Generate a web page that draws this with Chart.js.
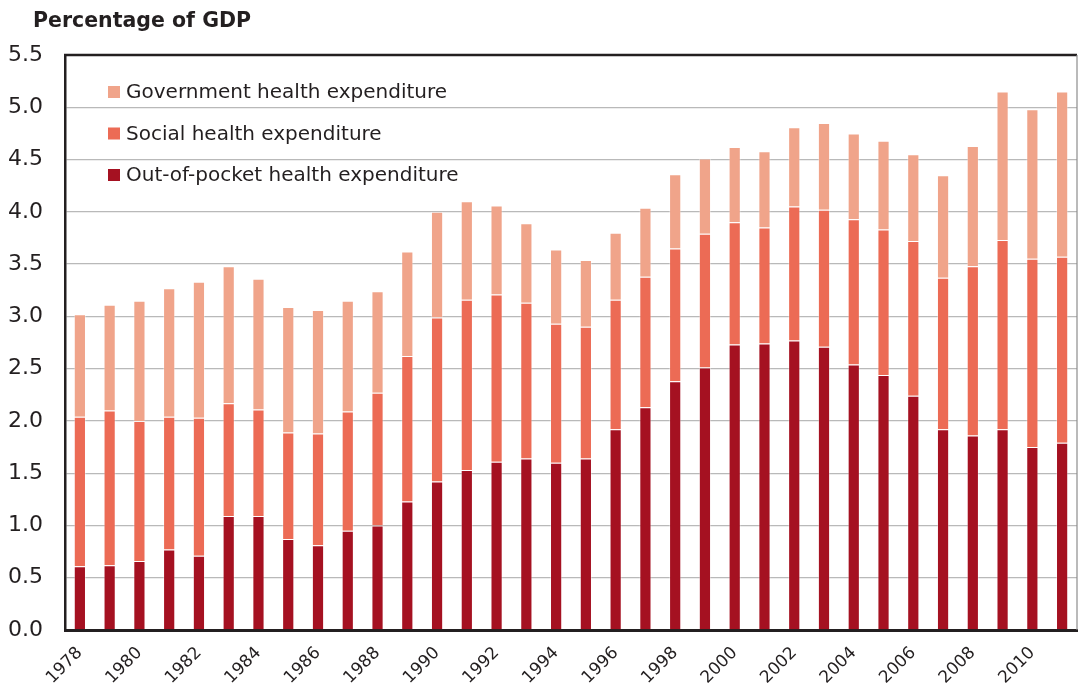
<!DOCTYPE html>
<html>
<head>
<meta charset="utf-8">
<script src="https://cdn.jsdelivr.net/npm/chart.js@4.4.1/dist/chart.umd.min.js"></script>
<style>
  html, body { margin: 0; padding: 0; background: #fff; }
  #wrap { width: 1079px; height: 687px; position: relative; }
</style>
</head>
<body>
<div id="wrap"><canvas id="myChart"></canvas></div>
<script>
'use strict';
//data
let years = ['1978', '1979', '1980', '1981', '1982', '1983', '1984', '1985', '1986', '1987',
  '1988', '1989', '1990', '1991', '1992', '1993', '1994', '1995', '1996', '1997',
  '1998', '1999', '2000', '2001', '2002', '2003', '2004', '2005', '2006', '2007',
  '2008', '2009', '2010', '2011'];
let outOfPocket = [0.61, 0.62, 0.66, 0.77, 0.71, 1.09, 1.09, 0.87, 0.81, 0.95,
  1.00, 1.23, 1.42, 1.53, 1.61, 1.64, 1.60, 1.64, 1.92, 2.13,
  2.38, 2.51, 2.73, 2.74, 2.77, 2.71, 2.54, 2.44, 2.24, 1.92,
  1.86, 1.92, 1.75, 1.79];
let social = [1.43, 1.48, 1.34, 1.27, 1.32, 1.08, 1.02, 1.02, 1.07, 1.14,
  1.27, 1.39, 1.57, 1.63, 1.60, 1.49, 1.33, 1.26, 1.24, 1.25,
  1.27, 1.28, 1.17, 1.11, 1.28, 1.31, 1.39, 1.39, 1.48, 1.45,
  1.62, 1.81, 1.80, 1.78];
let government = [0.98, 1.01, 1.15, 1.23, 1.30, 1.31, 1.25, 1.20, 1.18, 1.06,
  0.97, 1.00, 1.01, 0.94, 0.85, 0.76, 0.71, 0.64, 0.64, 0.66,
  0.71, 0.72, 0.72, 0.73, 0.76, 0.83, 0.82, 0.85, 0.83, 0.98,
  1.15, 1.42, 1.43, 1.58];
let yTicks = [0, 0.5, 1.0, 1.5, 2.0, 2.5, 3.0, 3.5, 4.0, 4.5, 5.0, 5.5];

let textColor = '#231f20';
let fontFamily = '"DejaVu Sans", "Liberation Sans", Arial, sans-serif';

//title, legend and box lines drawn on the canvas
let extras = {
  id: 'extras',
  afterDraw(chart) {
    let ctx = chart.ctx;
    let area = chart.chartArea;
    ctx.save();
    // top and right frame
    ctx.strokeStyle = textColor;
    ctx.lineWidth = 2.5;
    ctx.beginPath();
    ctx.moveTo(area.left - 1, area.top);
    ctx.lineTo(area.right, area.top);
    ctx.stroke();
    ctx.strokeStyle = '#8c8c8c';
    ctx.lineWidth = 1.2;
    ctx.beginPath();
    ctx.moveTo(area.right, area.top);
    ctx.lineTo(area.right, area.bottom);
    ctx.stroke();

    // title
    ctx.fillStyle = textColor;
    ctx.font = 'bold 20.5px ' + fontFamily;
    ctx.textBaseline = 'alphabetic';
    ctx.textAlign = 'left';
    ctx.fillText('Percentage of GDP', 33, 27);

    // legend (top item is last dataset)
    ctx.font = '20px ' + fontFamily;
    ctx.textBaseline = 'middle';
    let sets = chart.data.datasets.slice().reverse();
    for (let i = 0; i < sets.length; i++) {
      let y = 92 + i * 41.5;
      ctx.fillStyle = sets[i].backgroundColor;
      ctx.fillRect(108, y - 6, 12, 12);
      ctx.fillStyle = textColor;
      ctx.fillText(sets[i].label, 126, y + 1);
    }
    ctx.restore();
  }
};

const ctx = document.getElementById('myChart');

new Chart(ctx, {
  type: 'bar',
  data: {
    labels: years,
    datasets: [{
      label: 'Out-of-pocket health expenditure',
      data: outOfPocket,
      backgroundColor: '#a51121',
      borderColor: 'rgba(255,255,255,0.35)',
      borderWidth: 1,
    },
    {
      label: 'Social health expenditure',
      data: social,
      backgroundColor: '#ec6b55',
      borderColor: 'rgba(255,255,255,0.35)',
      borderWidth: 1,
    },
    {
      label: 'Government health expenditure',
      data: government,
      backgroundColor: '#f0a48a',
      borderColor: 'rgba(255,255,255,0.35)',
      borderWidth: 1,
    }]
  },
  options: {
    responsive: true,
    maintainAspectRatio: false,
    animation: false,
    layout: {
      padding: { top: 55, right: 2, left: 0, bottom: 0 }
    },
    datasets: {
      bar: {
        barPercentage: 0.41,
        categoryPercentage: 1.0
      }
    },
    plugins: {
      legend: { display: false },
      tooltip: { enabled: false }
    },
    scales: {
      x: {
        stacked: true,
        grid: { display: false, drawTicks: false },
        border: { color: textColor, width: 3 },
        ticks: {
          color: textColor,
          font: { family: fontFamily, size: 17 },
          autoSkip: false,
          maxRotation: 45,
          minRotation: 45,
          padding: 13,
          callback: function(value, index) {
            return index % 2 === 0 ? years[index] : '';
          }
        },
        afterFit: function(scale) {
          scale.height = 57;
          scale.paddingLeft = 0;
          scale.paddingRight = 0;
        }
      },
      y: {
        stacked: true,
        min: 0,
        max: 5.5,
        afterBuildTicks: function(scale) {
          scale.ticks = yTicks.map(v => ({ value: v }));
        },
        grid: { color: '#b9b9b9', lineWidth: 1.3, drawTicks: false },
        border: { color: textColor, width: 2.5 },
        ticks: {
          color: textColor,
          font: { family: fontFamily, size: 22 },
          padding: 22,
          callback: function(value) {
            return Number(value).toFixed(1);
          }
        },
        afterFit: function(scale) {
          scale.width = 65;
          scale.paddingTop = 0;
          scale.paddingBottom = 0;
        }
      }
    }
  },
  plugins: [extras]
});
</script>
</body>
</html>
